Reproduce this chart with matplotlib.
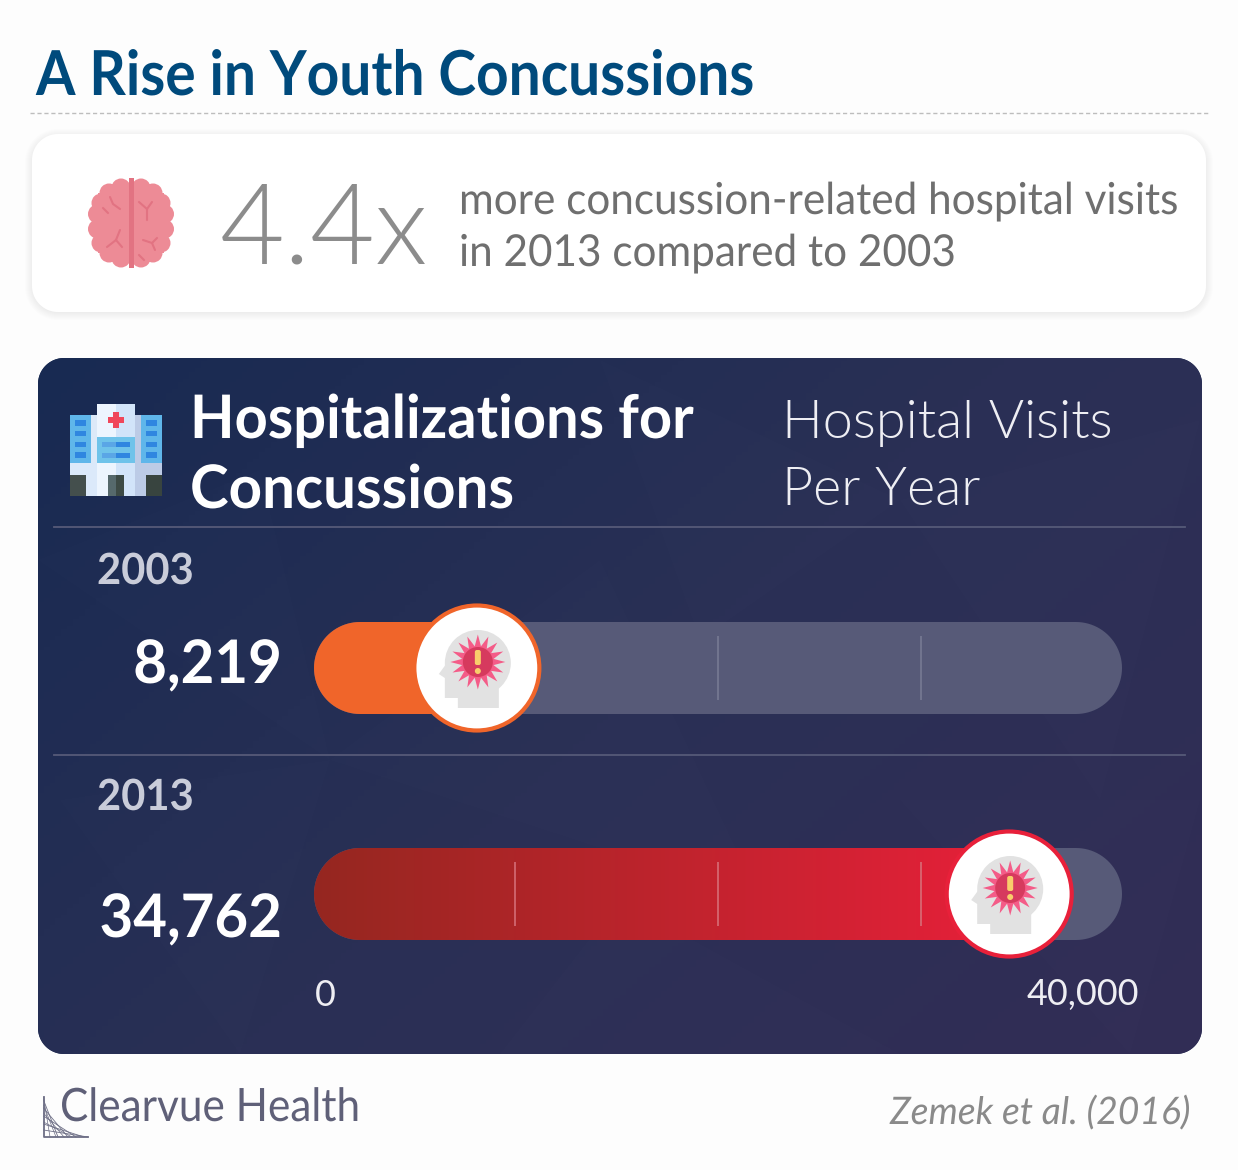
#!/usr/bin/env python3
# -*- coding: utf-8 -*-
"""plot.py - youth concussion infographic, drawn on a pixel canvas."""
import numpy as np
import matplotlib
matplotlib.use("Agg")
import matplotlib.pyplot as plt
import matplotlib.patheffects as pe
from matplotlib.patches import FancyBboxPatch, Circle, Rectangle, Polygon
from matplotlib.colors import LinearSegmentedColormap
from matplotlib.transforms import Affine2D

W, H = 1238, 1170

years = ["2003", "2013"]
visits = [8219, 34762]
visit_labels = ["8,219", "34,762"]
axis_max = 40000
axis_ticks = [10000, 20000, 30000]
axis_labels = ["0", "40,000"]

title = "A Rise in Youth Concussions"
stat = "4.4x"
stat_lines = ["more concussion-related hospital visits", "in 2013 compared to 2003"]
panel_title = ["Hospitalizations for", "Concussions"]
panel_unit = ["Hospital Visits", "Per Year"]
brand = "Clearvue Health"
source = "Zemek et al. (2016)"

plt.rcParams["font.family"] = ["Lato", "DejaVu Sans"]


def fs(px):
    return px * 0.72


class Condense(pe.AbstractPathEffect):
    """Squeeze a text sideways about its anchor, the reference has tight tracking."""

    def __init__(self, x_px, sx):
        super().__init__()
        self.x_px, self.sx = x_px, sx

    def draw_path(self, renderer, gc, tpath, affine, rgbFace=None):
        squeeze = Affine2D().translate(-self.x_px, 0).scale(self.sx, 1).translate(self.x_px, 0)
        renderer.draw_path(gc, tpath, affine + squeeze, rgbFace)


def label(a, x, y, s, sx=1.0, ha="left", **kw):
    t = a.text(x, y, s, ha=ha, **kw)
    if sx != 1.0:
        t.set_path_effects([Condense(x, sx)])
    return t


def pill(a, x0, y0, x1, y1, r, **kw):
    # true circular corners, the bbox rounding comes out squarish
    th = np.linspace(0, np.pi / 2, 24)
    pts = np.r_[np.c_[x1 - r + r * np.cos(th), y1 - r + r * np.sin(th)],
                np.c_[x0 + r - r * np.sin(th), y1 - r + r * np.cos(th)],
                np.c_[x0 + r - r * np.cos(th), y0 + r - r * np.sin(th)],
                np.c_[x1 - r + r * np.sin(th), y0 + r - r * np.cos(th)]]
    p = Polygon(pts, closed=True, **kw)
    a.add_patch(p)
    return p


fig = plt.figure(figsize=(W / 100, H / 100), dpi=100, facecolor="#fdfdfd")
ax = fig.add_axes([0, 0, 1, 1], zorder=0)
ax.set_xlim(0, W); ax.set_ylim(H, 0); ax.axis("off")

# header
label(ax, 36, 95, title, sx=0.917, fontsize=fs(62), color="#004a7c", fontweight="bold", va="baseline")
ax.plot([30, 1208], [113, 113], color="#bdbdbd", lw=1, ls=(0, (3, 2)))

# stat card with a soft shadow
for i in range(8):
    pill(ax, 32 - i, 136 - i, 1206 + i, 313 + i, 26 + i, fc="#000000", ec="none", alpha=0.008)
pill(ax, 32, 134, 1206, 312, 26, fc="white", ec="none")
label(ax, 220, 264, stat, fontsize=fs(112), color="#8c8c8c", fontweight=300, va="baseline")
label(ax, 459, 214, stat_lines[0], sx=0.96, fontsize=fs(44), color="#6f6f6f", va="baseline")
label(ax, 459, 266, stat_lines[1], sx=0.96, fontsize=fs(44), color="#6f6f6f", va="baseline")

# brain icon
BX = 131
lobes = [(-10, -35), (-22, -30), (-30, -20), (-33.5, -9), (-33.5, 6), (-30, 20), (-22, 30), (-10, 35)]
for sgn in (-1, 1):
    for dx, dy in lobes:
        ax.add_patch(Circle((BX + sgn * dx, 223 + dy), 9.5, fc="#ed8b96", ec="none"))
ax.add_patch(Rectangle((BX - 33, 193), 66, 60, fc="#ed8b96", ec="none"))
ax.add_patch(Rectangle((BX - 24, 184), 48, 78, fc="#ed8b96", ec="none"))
ax.add_patch(Rectangle((BX - 2.5, 178), 5, 90, fc="#e27382", ec="none"))
for seg in [[(110, 197), (113, 204), (120, 209)], [(103, 208), (108, 213)],
            [(120, 230), (116, 240), (107, 247)], [(116, 240), (122, 247)],
            [(139, 202), (147, 209), (147, 220)], [(147, 209), (152, 202)],
            [(143, 240), (152, 243), (157, 238)], [(152, 243), (155, 250)],
            [(139, 255), (144, 260)]]:
    xs, ys = zip(*seg)
    ax.plot(xs, ys, color="#e27382", lw=1.5, solid_capstyle="round")

# dark panel, gradient plus faint facets
panel = pill(ax, 38, 358, 1202, 1054, 26, fc="#1c2b52", ec="none")
grad = LinearSegmentedColormap.from_list("panel", ["#182a52", "#2a3055", "#322d55"])
xg, yg = np.meshgrid(np.linspace(0, 1, 200), np.linspace(0, 1, 200))
im = ax.imshow(xg * 0.6 + yg * 0.4, extent=[38, 1202, 1054, 358], cmap=grad, aspect="auto", zorder=1)
im.set_clip_path(panel)
ax.set_xlim(0, W); ax.set_ylim(H, 0)
facets = [[(38, 560), (260, 470), (330, 760)], [(330, 760), (600, 560), (760, 900)],
          [(600, 360), (900, 500), (700, 640)], [(900, 500), (1200, 420), (1100, 800)],
          [(60, 800), (330, 760), (240, 1054)], [(620, 900), (900, 1054), (500, 1054)],
          [(900, 800), (1200, 800), (1130, 1054)]]
for f in facets:
    pg = Polygon(f, fc="white", ec="none", alpha=0.008, zorder=1.1)
    ax.add_patch(pg)
    pg.set_clip_path(panel)
for y in (527, 755):
    ax.plot([54, 1185], [y, y], color="#565a78", lw=1.3, zorder=2)

label(ax, 190, 438, panel_title[0], sx=0.964, fontsize=fs(60), color="white", fontweight="bold", zorder=3)
label(ax, 190, 508, panel_title[1], sx=0.972, fontsize=fs(60), color="white", fontweight="bold", zorder=3)
label(ax, 782, 438, panel_unit[0], fontsize=fs(54), color="#eeeef3", fontweight=300, zorder=3)
label(ax, 782, 505, panel_unit[1], fontsize=fs(54), color="#eeeef3", fontweight=300, zorder=3)


# hospital icon, coordinates follow the enlarged crop
def hrect(x0, y0, x1, y1, c):
    ax.add_patch(Rectangle((50 + x0 / 3, 380 + y0 / 3), (x1 - x0) / 3, (y1 - y0) / 3, fc=c, ec="none", zorder=3))


hrect(60, 105, 140, 250, "#5fb6ea"); hrect(255, 105, 336, 250, "#5fb6ea")
hrect(123, 105, 140, 250, "#dce9f8"); hrect(255, 105, 272, 250, "#bccbe6")
hrect(60, 250, 140, 348, "#dbe9fa"); hrect(255, 250, 336, 348, "#bccbe6")
hrect(140, 72, 198, 348, "#edf5fe"); hrect(198, 72, 255, 348, "#d2e4f9")
hrect(140, 170, 255, 250, "#6fc3ea")
hrect(157, 186, 198, 202, "#5aa6e6"); hrect(198, 186, 240, 202, "#2f86e0")
hrect(157, 218, 198, 234, "#5aa6e6"); hrect(198, 218, 240, 234, "#2f86e0")
for y0 in (121, 153, 185, 217):
    hrect(76, y0, 108, y0 + 16, "#2f86e0"); hrect(288, y0, 320, y0 + 16, "#2f86e0")
hrect(60, 284, 108, 348, "#444f4d"); hrect(288, 284, 336, 348, "#38443f")
hrect(174, 284, 198, 348, "#56696c"); hrect(198, 284, 222, 348, "#3d4a45")
hrect(174, 112, 222, 130, "#f0475a"); hrect(189, 97, 207, 145, "#f0475a")

# year rows, drawn on their own value axis
ROW0, ROW1, BAR_H = 668, 894, 92
TOP, BOTTOM = 622, 940
X0, X1 = 312, 1124
bar_ax = fig.add_axes([X0 / W, 1 - BOTTOM / H, (X1 - X0) / W, (BOTTOM - TOP) / H], zorder=1)
bar_ax.patch.set_alpha(0)
bar_ax.axis("off")
row_h = ROW1 - ROW0

red = LinearSegmentedColormap.from_list("red", ["#952720", "#e8203a"])
value_base = [683, 937]
for i, (yr, v, lab) in enumerate(zip(years, visits, visit_labels)):
    cy = ROW0 + i * row_h
    pill(ax, 314, cy - BAR_H / 2, 1122, cy + BAR_H / 2, BAR_H / 2, fc="#575a78", ec="none", zorder=2)
    clip = pill(ax, 314, cy - BAR_H / 2, 1122, cy + BAR_H / 2, BAR_H / 2, fc="none", ec="none", zorder=2)
    if i == 0:
        bars = bar_ax.barh([i], [v], height=BAR_H / row_h, color="#f0652a", zorder=1)
        bars[0].set_clip_path(clip)
    else:
        g = bar_ax.imshow(np.linspace(0, 1, 256)[None, :],
                          extent=[0, v, i + 0.5 * BAR_H / row_h, i - 0.5 * BAR_H / row_h],
                          cmap=red, aspect="auto", zorder=1)
        g.set_clip_path(clip)
    tick_col = "#7a7d95" if i == 0 else "#d8737c"
    bar_ax.vlines(axis_ticks, i - 32 / row_h, i + 32 / row_h, color=tick_col, lw=1.1, zorder=2)
    label(ax, 97, cy - 97, yr, sx=0.97, fontsize=fs(43), color="#c9ccd9", fontweight="bold", va="center", zorder=3)
    label(ax, 282, value_base[i], lab, sx=0.97, ha="right", fontsize=fs(60), color="white", fontweight="bold",
          va="baseline", zorder=3)
bar_ax.set_xlim(0, axis_max)
bar_ax.set_ylim((BOTTOM - ROW0) / row_h, (TOP - ROW0) / row_h)

ax.text(315, 995, axis_labels[0], fontsize=fs(36), color="#eeeef3", va="center", zorder=3)
ax.text(1139, 995, axis_labels[1], fontsize=fs(36), color="#eeeef3", va="center", ha="right", zorder=3)

# knobs on top of the bars
top = fig.add_axes([0, 0, 1, 1], zorder=2)
top.set_xlim(0, W); top.set_ylim(H, 0); top.axis("off"); top.patch.set_alpha(0)
ring_cols = ["#f0652a", "#e8203a"]
for i, v in enumerate(visits):
    cx = X0 + v / axis_max * (X1 - X0) * 0.988
    cy = ROW0 + i * row_h
    top.add_patch(Circle((cx, cy), 62.5, fc="white", ec=ring_cols[i], lw=3))
    # head
    top.add_patch(Circle((cx + 1, cy - 5), 33, fc="#e2e2e2", ec="none"))
    top.add_patch(Polygon([(cx - 30, cy - 5), (cx - 38, cy + 6), (cx - 32, cy + 10), (cx - 32, cy + 30),
                           (cx - 19, cy + 30), (cx - 19, cy + 40), (cx + 22, cy + 40), (cx + 22, cy + 15)],
                          fc="#e2e2e2", ec="none"))
    # burst
    ang = np.linspace(0, 2 * np.pi, 32, endpoint=False) - np.pi / 2
    rad = np.where(np.arange(32) % 2 == 0, 27.5, 16)
    top.add_patch(Polygon(np.c_[cx + 1 + rad * np.cos(ang), cy - 6 + rad * np.sin(ang)], fc="#f45c88", ec="none"))
    top.add_patch(Circle((cx + 1, cy - 6), 15, fc="#d63a5e", ec="none"))
    top.add_patch(FancyBboxPatch((cx - 1, cy - 17), 4, 13, boxstyle="round,pad=1,rounding_size=2", fc="#f9cd6b", ec="none"))
    top.add_patch(Circle((cx + 1, cy + 3), 3, fc="#f9cd6b", ec="none"))

# footer
label(ax, 60, 1121, brand, sx=0.92, fontsize=fs(46), color="#5f6078", va="baseline")
label(ax, 1190, 1124, source, sx=0.98, ha="right", fontsize=fs(38), color="#8a8a8a", style="italic", va="baseline")
logo_c = "#6e6f86"
ax.plot([43.5, 43.5, 88], [1097, 1137, 1137], color=logo_c, lw=1.3)
for a, b in [(1100, 58), (1108, 68), (1116, 76), (1124, 84), (1130, 88)]:
    ax.plot([43.5, b], [a, 1137], color=logo_c, lw=0.6)
for a, b in [(1097, 50), (1105, 56), (1113, 64), (1122, 72)]:
    ax.plot([43.5, b], [a, 1137], color=logo_c, lw=0.5)

fig.savefig("out.png", dpi=100, facecolor=fig.get_facecolor())
